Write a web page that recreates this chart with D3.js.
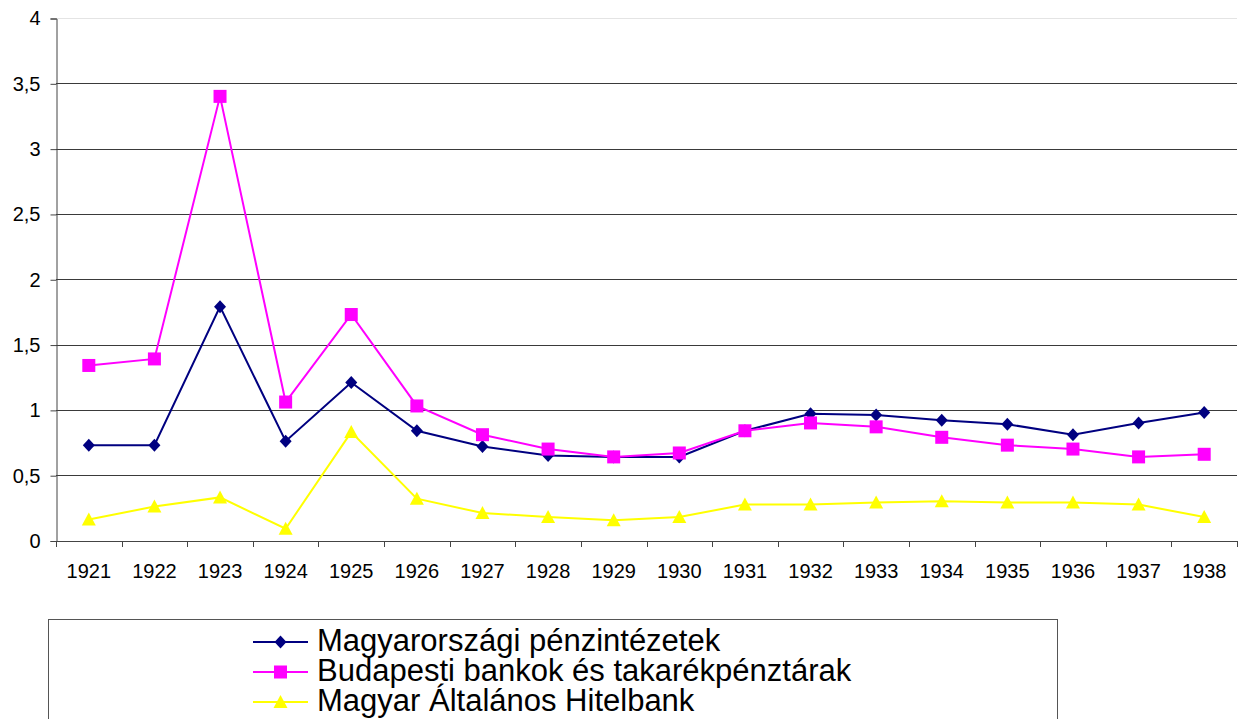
<!DOCTYPE html>
<html>
<head>
<meta charset="utf-8">
<script src="https://cdn.jsdelivr.net/npm/d3@7"></script>
<style>
  body { margin: 0; background: #fff; }
  svg { display: block; font-family: "Liberation Sans", Arial, sans-serif; }
</style>
</head>
<body>
<svg id="chart" width="1241" height="719"></svg>
<script>
// Data
const years = ["1921", "1922", "1923", "1924", "1925", "1926", "1927", "1928", "1929",
  "1930", "1931", "1932", "1933", "1934", "1935", "1936", "1937", "1938"];
const penzintezetek = [0.73, 0.73, 1.79, 0.76, 1.21, 0.84, 0.72, 0.65, 0.64,
  0.64, 0.84, 0.97, 0.96, 0.92, 0.89, 0.81, 0.90, 0.98];
const budapestiBankok = [1.34, 1.39, 3.40, 1.06, 1.73, 1.03, 0.81, 0.70, 0.64,
  0.67, 0.84, 0.90, 0.87, 0.79, 0.73, 0.70, 0.64, 0.66];
const hitelbank = [0.16, 0.26, 0.33, 0.09, 0.83, 0.32, 0.21, 0.18, 0.155,
  0.18, 0.275, 0.275, 0.29, 0.30, 0.29, 0.29, 0.275, 0.18];
const yTicks = [0, 0.5, 1, 1.5, 2, 2.5, 3, 3.5, 4];
const seriesNames = ["Magyarországi pénzintézetek", "Budapesti bankok és takarékpénztárak", "Magyar Általános Hitelbank"];

const series = [
  { name: seriesNames[0], values: penzintezetek, color: "#000080", marker: "diamond" },
  { name: seriesNames[1], values: budapestiBankok, color: "#FF00FF", marker: "square" },
  { name: seriesNames[2], values: hitelbank, color: "#FFFF00", marker: "triangle" }
];

const svg = d3.select("#chart");
const plot = { left: 56, right: 1237, top: 18, bottom: 540.5 };

const x = d3.scaleBand().domain(years).range([plot.left, plot.right]).padding(0);
const y = d3.scaleLinear().domain([0, 4]).range([plot.bottom, plot.top]);
const cx = d => x(d) + x.bandwidth() / 2;

// gridlines
svg.append("g")
  .selectAll("line")
  .data(yTicks.filter(t => t > 0))
  .join("line")
  .attr("x1", plot.left)
  .attr("x2", plot.right)
  .attr("y1", d => Math.round(y(d)) + 0.5)
  .attr("y2", d => Math.round(y(d)) + 0.5)
  .attr("stroke", d => d === 4 ? "#e4e4e4" : "#3a3a3a")
  .attr("stroke-width", 1);

// y axis
const yAxis = d3.axisLeft(y)
  .tickValues(yTicks)
  .tickSize(6)
  .tickPadding(10)
  .tickFormat(d => String(d).replace(".", ","));

svg.append("g")
  .attr("transform", `translate(${plot.left + 0.5},0.5)`)
  .call(yAxis)
  .call(g => g.select(".domain").attr("stroke", "#444"))
  .call(g => g.selectAll(".tick line").attr("stroke", "#444"))
  .call(g => g.selectAll("text")
    .attr("font-size", 20)
    .attr("font-family", "Liberation Sans, Arial, sans-serif")
    .attr("fill", "#000"));

// x axis: ticks at category boundaries
svg.append("line")
  .attr("x1", plot.left)
  .attr("x2", plot.right + 1)
  .attr("y1", Math.round(plot.bottom) + 0.5)
  .attr("y2", Math.round(plot.bottom) + 0.5)
  .attr("stroke", "#444");

const boundaries = years.map(d => x(d)).concat([plot.right]);
svg.append("g")
  .selectAll("line")
  .data(boundaries)
  .join("line")
  .attr("x1", d => Math.round(d) + 0.5)
  .attr("x2", d => Math.round(d) + 0.5)
  .attr("y1", Math.round(plot.bottom))
  .attr("y2", Math.round(plot.bottom) + 6)
  .attr("stroke", "#444");

svg.append("g")
  .selectAll("text")
  .data(years)
  .join("text")
  .attr("x", d => cx(d))
  .attr("y", 578)
  .attr("text-anchor", "middle")
  .attr("font-size", 20)
  .attr("fill", "#000")
  .text(d => d);

// markers
function drawMarker(g, type, color, px, py) {
  if (type === "diamond") {
    g.append("path")
      .attr("d", `M${px},${py - 6.5}L${px + 6},${py}L${px},${py + 6.5}L${px - 6},${py}Z`)
      .attr("fill", color);
  } else if (type === "square") {
    g.append("rect")
      .attr("x", px - 6.5).attr("y", py - 6.5)
      .attr("width", 13).attr("height", 13)
      .attr("fill", color);
  } else {
    g.append("path")
      .attr("d", `M${px},${py - 7}L${px + 7},${py + 6}L${px - 7},${py + 6}Z`)
      .attr("fill", color);
  }
}

const line = d3.line()
  .x((d, i) => cx(years[i]))
  .y(d => y(d));

series.forEach(s => {
  const g = svg.append("g");
  g.append("path")
    .datum(s.values)
    .attr("d", line)
    .attr("fill", "none")
    .attr("stroke", s.color)
    .attr("stroke-width", 2);
  s.values.forEach((v, i) => drawMarker(g, s.marker, s.color, cx(years[i]), y(v)));
});

// legend
const legend = svg.append("g");
legend.append("rect")
  .attr("x", 48.5)
  .attr("y", 619.5)
  .attr("width", 1009)
  .attr("height", 200)
  .attr("fill", "none")
  .attr("stroke", "#555");

series.forEach((s, i) => {
  const ly = 642 + i * 30;
  const item = legend.append("g");
  item.append("line")
    .attr("x1", 253).attr("x2", 308)
    .attr("y1", ly).attr("y2", ly)
    .attr("stroke", s.color)
    .attr("stroke-width", 2);
  drawMarker(item, s.marker, s.color, 280.5, ly);
  item.append("text")
    .attr("x", 317)
    .attr("y", ly + 8.5)
    .attr("font-size", 31)
    .attr("fill", "#000")
    .text(s.name);
});
</script>
</body>
</html>
